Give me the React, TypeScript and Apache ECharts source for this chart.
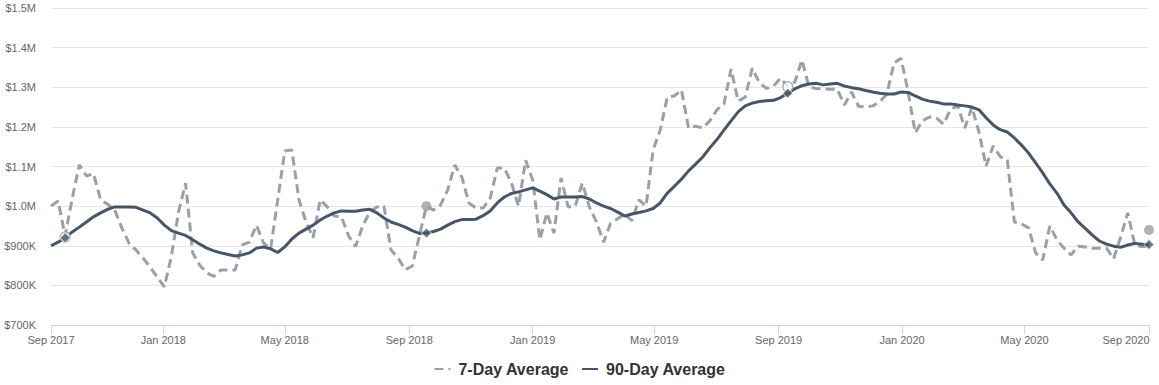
import React, { useEffect, useRef } from "react";
import * as echarts from "echarts";

// Weekly series starting 2017-09-12 (one point per week, 156 points)
const START = [2017, 8, 12];

const sevenDayAvg = [
  1000000, 1013000, 925000, 1020000, 1104000, 1076000, 1082000, 1016000, 1005000, 990000,
  945000, 907000, 889000, 869000, 846000, 821000, 796000, 874000, 985000, 1058000,
  882000, 851000, 831000, 823000, 839000, 839000, 839000, 902000, 909000, 952000,
  907000, 892000, 1015000, 1139000, 1142000, 1016000, 960000, 920000, 1016000, 998000,
  975000, 973000, 925000, 898000, 950000, 985000, 998000, 1000000, 889000, 869000,
  839000, 849000, 925000, 1000000, 990000, 1003000, 1041000, 1104000, 1073000, 1008000,
  995000, 995000, 1020000, 1096000, 1096000, 1058000, 1000000, 1116000, 1066000, 915000,
  983000, 932000, 1071000, 998000, 1000000, 1058000, 998000, 960000, 909000, 957000,
  968000, 980000, 963000, 1016000, 1000000, 1142000, 1192000, 1275000, 1278000, 1293000,
  1197000, 1202000, 1197000, 1215000, 1243000, 1258000, 1346000, 1265000, 1275000, 1348000,
  1311000, 1297000, 1303000, 1323000, 1301000, 1313000, 1369000, 1301000, 1297000, 1296000,
  1295000, 1295000, 1255000, 1288000, 1252000, 1250000, 1253000, 1263000, 1283000, 1361000,
  1373000, 1288000, 1185000, 1215000, 1225000, 1222000, 1207000, 1245000, 1253000, 1197000,
  1250000, 1187000, 1101000, 1152000, 1125000, 1116000, 960000, 955000, 945000, 882000,
  864000, 950000, 915000, 894000, 877000, 899000, 897000, 894000, 894000, 894000,
  867000, 922000, 983000, 902000, 898000, 899000,
];

const ninetyDayAvg = [
  900000, 909000, 920000, 935000, 947000, 960000, 973000, 983000, 992000, 998000,
  998000, 998000, 997000, 990000, 983000, 970000, 952000, 938000, 932000, 926000,
  915000, 904000, 894000, 887000, 882000, 878000, 874000, 877000, 882000, 894000,
  897000, 892000, 883000, 897000, 917000, 932000, 942000, 952000, 965000, 975000,
  983000, 988000, 987000, 987000, 990000, 992000, 983000, 970000, 960000, 954000,
  947000, 938000, 931000, 932000, 936000, 942000, 952000, 961000, 966000, 966000,
  967000, 976000, 988000, 1008000, 1023000, 1032000, 1036000, 1041000, 1046000, 1038000,
  1029000, 1018000, 1023000, 1023000, 1023000, 1024000, 1018000, 1008000, 1000000, 994000,
  985000, 975000, 980000, 984000, 988000, 994000, 1008000, 1033000, 1050000, 1068000,
  1089000, 1106000, 1124000, 1147000, 1168000, 1192000, 1215000, 1238000, 1253000, 1260000,
  1264000, 1266000, 1267000, 1274000, 1285000, 1296000, 1304000, 1308000, 1310000, 1306000,
  1308000, 1310000, 1303000, 1299000, 1296000, 1292000, 1288000, 1285000, 1283000, 1283000,
  1288000, 1287000, 1278000, 1270000, 1265000, 1262000, 1258000, 1258000, 1255000, 1253000,
  1250000, 1243000, 1223000, 1205000, 1193000, 1187000, 1172000, 1154000, 1134000, 1109000,
  1084000, 1056000, 1033000, 1003000, 983000, 960000, 944000, 927000, 912000, 904000,
  899000, 896000, 902000, 906000, 904000, 902000,
];

// Highlighted yearly points
const markerDates = ["2017-09-26", "2018-09-18", "2019-09-10", "2020-09-01"];
const markerSevenDay = [922000, 1000000, 1301000, 940000];
const markerNinetyDay = [920000, 932000, 1285000, 903000];
const markerHollow = [true, false, true, false];

// x-axis tick positions
const tickDates = [
  "2017-09-12", "2018-01-01", "2018-05-01", "2018-09-01", "2019-01-01",
  "2019-05-01", "2019-09-01", "2020-01-01", "2020-05-01", "2020-09-01",
];
const monthNames = ["Jan", "Feb", "Mar", "Apr", "May", "Jun", "Jul", "Aug", "Sep", "Oct", "Nov", "Dec"];

const yMin = 700000;
const yMax = 1500000;
const yStep = 100000;

const toTs = (s: string) => {
  const [y, m, d] = s.split("-").map(Number);
  return new Date(y, m - 1, d).getTime();
};
const weekTs = (i: number) => new Date(START[0], START[1], START[2] + 7 * i).getTime();

const GRAY = "#9aa0a8";
const DARK = "#465567";

export default function App() {
  const ref = useRef<HTMLDivElement>(null);
  useEffect(() => {
    document.body.style.margin = "0";
    if (!ref.current) return;
    const chart = echarts.init(ref.current, undefined, { renderer: "svg" });
    const ticks = tickDates.map(toTs);
    const lastTick = ticks[ticks.length - 1];
    const font = "Arial, 'Liberation Sans', sans-serif";
    chart.setOption({
      animation: false,
      grid: { left: 51, right: 10, top: 8, bottom: 60, containLabel: false, outerBoundsMode: "none" },
      xAxis: {
        type: "value",
        min: toTs("2017-09-12"),
        max: toTs("2020-09-01"),
        axisLine: { show: true, onZero: false, lineStyle: { color: "#ccd6eb", width: 1 } },
        axisTick: { show: true, customValues: ticks, length: 9, lineStyle: { color: "#ccd6eb" } },
        splitLine: { show: false },
        axisLabel: {
          customValues: ticks,
          margin: 9,
          color: "#666666",
          fontSize: 11,
          fontFamily: font,
          showMinLabel: true,
          showMaxLabel: true,
          formatter: (v: number) => {
            const d = new Date(v);
            const txt = `${monthNames[d.getMonth()]} ${d.getFullYear()}`;
            return v === lastTick ? `{r|${txt}}` : txt;
          },
          rich: {
            r: { color: "#666666", fontSize: 11, fontFamily: font, padding: [0, 46, 0, 0] },
          },
        },
      },
      yAxis: {
        type: "value",
        min: yMin,
        max: yMax,
        interval: yStep,
        axisLine: { show: false },
        axisTick: { show: false },
        splitLine: { lineStyle: { color: "#e6e6e6", width: 1 } },
        axisLabel: {
          margin: 15,
          color: "#666666",
          fontSize: 11,
          fontFamily: font,
          formatter: (v: number) =>
            v >= 1000000 ? `$${(v / 1000000).toFixed(1)}M` : `$${Math.round(v / 1000)}K`,
        },
      },
      legend: {
        data: ["7-Day Average", "90-Day Average"],
        top: 356,
        left: "center",
        itemWidth: 16,
        itemHeight: 12,
        itemGap: 12,
        itemStyle: { opacity: 0 },
        textStyle: { fontSize: 16, fontWeight: "bold", color: "#333333", fontFamily: font, padding: [0, 0, 0, 3] },
      },
      series: [
        {
          name: "7-Day Average",
          type: "line",
          symbol: "none",
          data: sevenDayAvg.map((v, i) => [weekTs(i), v]),
          lineStyle: { color: GRAY, width: 3, type: [9, 5] },
          itemStyle: { color: GRAY },
          z: 2,
        },
        {
          name: "90-Day Average",
          type: "line",
          symbol: "none",
          data: ninetyDayAvg.map((v, i) => [weekTs(i), v]),
          lineStyle: { color: DARK, width: 3 },
          itemStyle: { color: DARK },
          z: 3,
        },
        {
          name: "7-Day marker",
          type: "scatter",
          symbol: "circle",
          symbolSize: 10,
          data: markerDates.map((d, i) => ({
            value: [toTs(d), markerSevenDay[i]],
            itemStyle: markerHollow[i]
              ? { color: "#ffffff", borderColor: GRAY, borderWidth: 1.5 }
              : { color: GRAY, borderColor: "#ffffff", borderWidth: 0 },
          })),
          z: 4,
        },
        {
          name: "90-Day marker",
          type: "scatter",
          symbol: "diamond",
          symbolSize: 10,
          data: markerDates.map((d, i) => [toTs(d), markerNinetyDay[i]]),
          itemStyle: { color: DARK, borderColor: "#ffffff", borderWidth: 1 },
          z: 5,
        },
      ],
    });
    return () => chart.dispose();
  }, []);
  return <div ref={ref} style={{ width: 1159, height: 385 }} />;
}
